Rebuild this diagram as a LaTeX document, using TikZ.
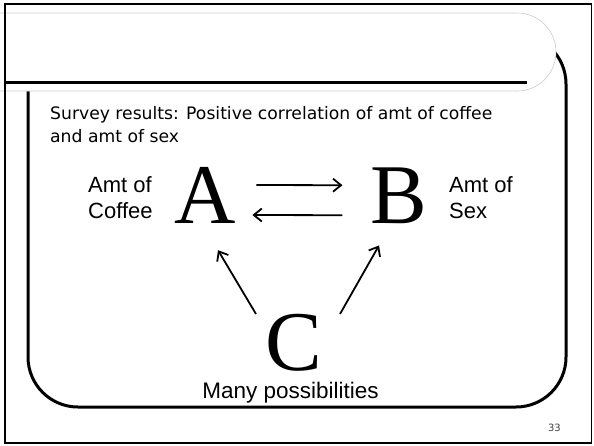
\documentclass[tikz,border=0pt]{standalone}
\usepackage{fontspec}
\setmainfont{Liberation Serif}
\setsansfont{Liberation Sans}
\newfontfamily\slidefont{DejaVu Sans}
\usetikzlibrary{arrows.meta}

\begin{document}
\begin{tikzpicture}[x=1pt,y=-1pt,
    letter/.style={inner sep=0pt,font=\rmfamily\fontsize{85}{85}\selectfont},
    sidetext/.style={inner sep=0pt,align=left,font=\sffamily\fontsize{22}{26}\selectfont},
    causal/.style={line width=1.8pt,-{Straight Barb[length=8pt,width=13pt]}}]

\def\FRAMECOLOR{black}
\useasboundingbox (0,0) rectangle (594,445);
	% slide body and title bar
	\draw[line width=3pt,rounded corners=50pt] (28,34) rectangle (566,407);
	\filldraw[fill=white,draw=black!20,line width=0.6pt,rounded corners=39pt] (-60,13) rectangle (556,91);
	\draw[line width=3pt] (5,82) -- (527,82);
	\draw[\FRAMECOLOR,line width=1.6pt] (5,4) rectangle (591.5,443);

	\node[anchor=base west,inner sep=0pt,align=left,font=\slidefont\fontsize{17.2}{23}\selectfont] (survey) at (50,142)
		{Survey results: Positive correlation of amt of coffee\\and amt of sex};

	\node[letter,anchor=base] (A) at (205.5,223.5) {A};
	\node[letter,anchor=base] (B) at (399,223.5) {B};
	\node[letter,anchor=base] (C) at (294,370.5) {C};

	\node[sidetext,anchor=base west] (coffee) at (88,218) {Amt of\\Coffee};
	\node[sidetext,anchor=base west] (sex) at (449,218) {Amt of\\Sex};
	\node[anchor=base,inner sep=0pt,font=\sffamily\fontsize{22.5}{27}\selectfont] (many) at (290.5,398) {Many possibilities};
	\node[anchor=base east,inner sep=0pt,text=darkgray,font=\slidefont\fontsize{10}{12}\selectfont] (page) at (561,431) {33};

	\draw[causal,shorten <=20pt,shorten >=28pt] ([yshift=10.5pt]A.east) -- ([yshift=10.5pt]B.west);
	\draw[causal,shorten <=28pt,shorten >=16pt] ([yshift=-19.5pt]B.west) -- ([yshift=-19.5pt]A.east);
	\draw[causal] ([xshift=-38pt]C.north) -- ([xshift=12.5pt,yshift=-26.5pt]A.south);
	\draw[causal] ([xshift=46pt]C.north) -- ([xshift=-20pt,yshift=-21.5pt]B.south);

\end{tikzpicture}
\end{document}
